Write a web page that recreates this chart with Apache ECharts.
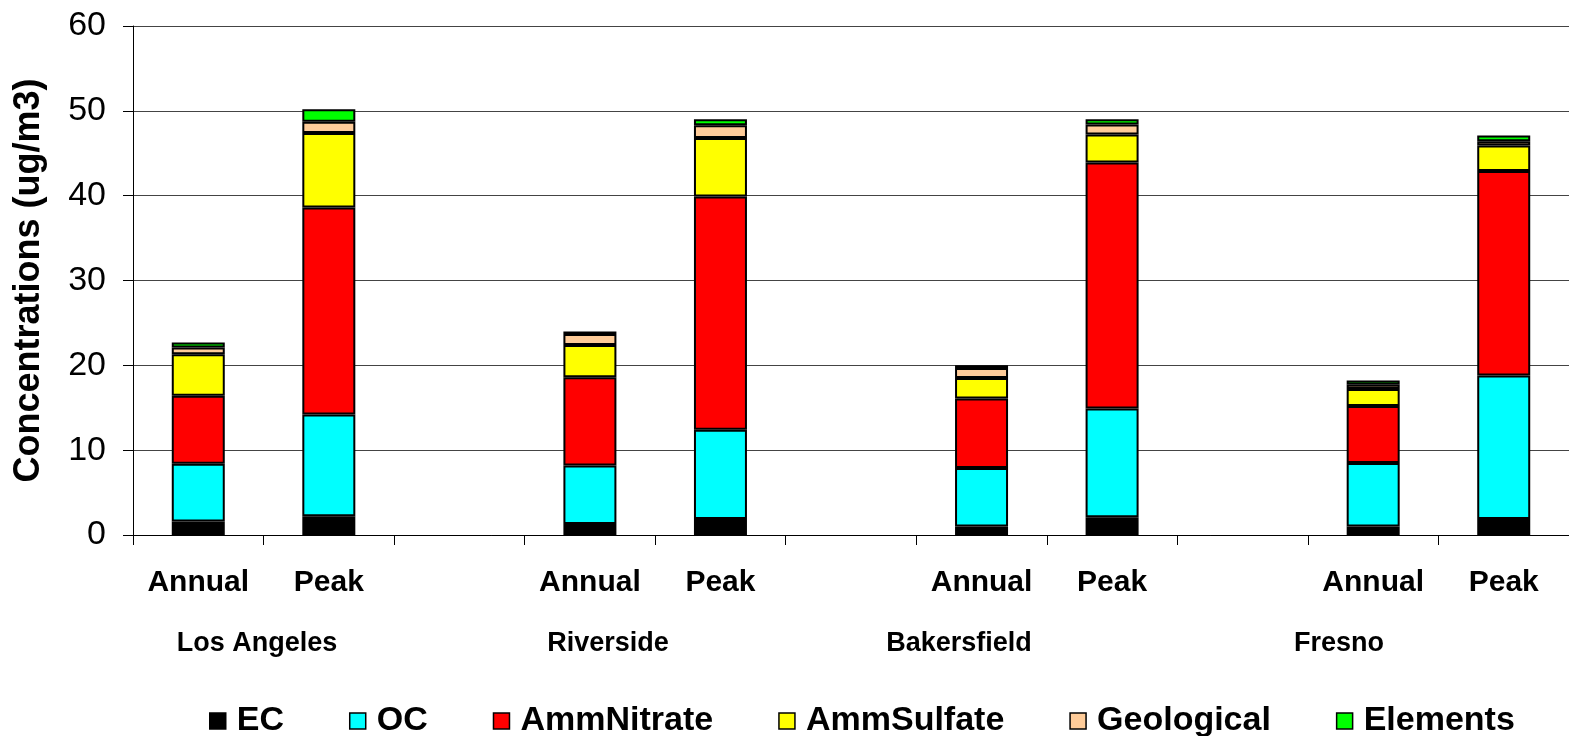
<!DOCTYPE html>
<html>
<head>
<meta charset="utf-8">
<script src="https://cdn.jsdelivr.net/npm/echarts@6/dist/echarts.min.js"></script>
<style>
html,body{margin:0;padding:0;background:#fff;}
#main{width:1569px;height:736px;}
</style>
</head>
<body>
<div id="main"></div>
<script>
// Categories (blank slots separate the cities)
var categories = ['Annual', 'Peak', '', 'Annual', 'Peak', '', 'Annual', 'Peak', '', 'Annual', 'Peak'];
var cityLabels = ['Los Angeles', 'Riverside', 'Bakersfield', 'Fresno'];
var seriesNames = ['EC', 'OC', 'AmmNitrate', 'AmmSulfate', 'Geological', 'Elements'];
var yTicks = [0, 10, 20, 30, 40, 50, 60];

// Values (ug/m3), '-' for empty slots
var EC         = [1.6, 2.2, '-', 1.3, 1.9, '-', 1.0, 2.1, '-', 1.0, 1.9];
var OC         = [6.8, 12.0, '-', 6.9, 10.5, '-', 6.9, 12.8, '-', 7.5, 16.9];
var AmmNitrate = [8.0, 24.4, '-', 10.4, 27.5, '-', 8.2, 29.0, '-', 6.7, 24.1];
var AmmSulfate = [4.9, 8.8, '-', 3.8, 6.9, '-', 2.4, 3.3, '-', 2.0, 3.0];
var Geological = [0.8, 1.3, '-', 1.3, 1.5, '-', 1.2, 1.2, '-', 0.5, 0.5];
var Elements   = [0.6, 1.5, '-', 0.3, 0.7, '-', 0.3, 0.6, '-', 0.5, 0.7];

var seriesData = [EC, OC, AmmNitrate, AmmSulfate, Geological, Elements];
var colors = ['#000000', '#00FFFF', '#FF0000', '#FFFF00', '#FFCC99', '#00FF00'];

var FONT = 'Liberation Sans, Arial, sans-serif';

var chart = echarts.init(document.getElementById('main'), null, {renderer: 'canvas'});

var series = seriesNames.map(function (name, i) {
  return {
    name: name,
    type: 'bar',
    stack: 'total',
    barWidth: 53,
    data: seriesData[i],
    itemStyle: {color: colors[i], borderColor: '#000', borderWidth: 2},
    emphasis: {disabled: true}
  };
});

var cityCenters = [257, 608, 959, 1339];
var graphics = cityLabels.map(function (t, i) {
  return {
    type: 'text',
    x: cityCenters[i],
    y: 644,
    style: {
      text: t,
      font: 'bold 27px ' + FONT,
      fill: '#000',
      align: 'center',
      verticalAlign: 'middle'
    }
  };
});

chart.setOption({
  animation: false,
  backgroundColor: '#fff',
  color: colors,
  grid: {left: 133, right: 0, top: 26, bottom: 201, containLabel: false, outerBoundsMode: 'none'},
  legend: {
    data: seriesNames,
    left: 204,
    top: 699,
    icon: 'rect',
    itemWidth: 16,
    itemHeight: 16,
    itemGap: 65,
    textStyle: {fontFamily: FONT, fontWeight: 'bold', fontSize: 34, color: '#000', padding: [0, 0, 0, 6]},
    itemStyle: {borderColor: '#000', borderWidth: 1.5}
  },
  xAxis: {
    type: 'category',
    data: categories,
    boundaryGap: true,
    axisLine: {lineStyle: {color: '#000', width: 1}},
    axisTick: {show: true, length: 10, lineStyle: {color: '#000'}, alignWithLabel: false, interval: 0},
    axisLabel: {interval: 0, margin: 33, fontFamily: FONT, fontWeight: 'bold', fontSize: 30, color: '#000'},
    splitLine: {show: false}
  },
  yAxis: {
    type: 'value',
    min: 0,
    max: 60,
    interval: 10,
    name: 'Concentrations (ug/m3)',
    nameLocation: 'middle',
    nameGap: 86,
    nameTextStyle: {fontFamily: FONT, fontWeight: 'bold', fontSize: 36, color: '#000'},
    axisLine: {show: true, lineStyle: {color: '#000', width: 1}},
    axisTick: {show: true, length: 10, lineStyle: {color: '#000'}},
    axisLabel: {
      margin: 27, fontFamily: FONT, fontSize: 34, color: '#000',
      formatter: function (v) { return yTicks.indexOf(v) >= 0 ? String(v) : ''; }
    },
    splitLine: {show: true, lineStyle: {color: '#444', width: 1}}
  },
  graphic: graphics,
  series: series
});
</script>
</body>
</html>
